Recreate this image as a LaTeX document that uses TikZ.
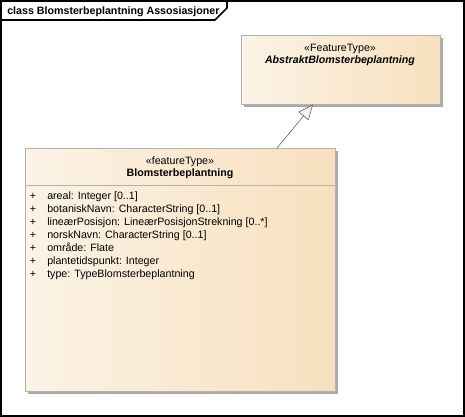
\documentclass[tikz,border=0pt]{standalone}
\usepackage{fontspec}
\setmainfont{Liberation Sans}
\usetikzlibrary{positioning,arrows.meta,shadows}

\definecolor{boxleft}{RGB}{251,243,230}
\definecolor{boxright}{RGB}{248,224,190}
\definecolor{boxline}{RGB}{178,178,178}
\definecolor{shadowgray}{RGB}{170,170,170}
\definecolor{genline}{RGB}{85,85,85}

\tikzset{
	classbox/.style={draw=boxline, left color=boxleft, right color=boxright,
		anchor=north west, inner sep=0pt,
		drop shadow={shadow xshift=2.25pt, shadow yshift=-2.25pt, fill=shadowgray, opacity=1}},
	attr/.style={anchor=base west, inner sep=0pt},
}

\begin{document}
\begin{tikzpicture}[x=0.75pt, y=-0.75pt, font=\fontsize{8}{9.75}\selectfont]
			\useasboundingbox (0,0) rectangle (465,417);
			
			% frame and tab
			\draw[line width=1.5pt] (1,1) rectangle (464,416);
			\draw[line width=1.2pt] (1,20) -- (215,20) -- (227,8) -- (227,1);
			\node[anchor=base west, inner sep=0pt, font=\fontsize{8}{9.75}\selectfont\bfseries] (title) at (7,14.5) {class Blomsterbeplantning Assosiasjoner};
			
			% classes
			\node[classbox, minimum width=149.25pt, minimum height=51.75pt] (abstrakt) at (241,35) {};
			\node[classbox, minimum width=232.5pt, minimum height=182.25pt] (blomst) at (25,148) {};
			
			\node[anchor=base, inner sep=0pt] (abstrakt-st) at (340,51.5) {«FeatureType»};
			\node[anchor=base, inner sep=0pt, font=\fontsize{8}{9.75}\selectfont\bfseries\itshape] (abstrakt-name) at (340,63.5) {AbstraktBlomsterbeplantning};
			
			\node[anchor=base, inner sep=0pt] (blomst-st) at (180,164.5) {«featureType»};
			\node[anchor=base, inner sep=0pt, font=\fontsize{8}{9.75}\selectfont\bfseries] (blomst-name) at (180,176.5) {Blomsterbeplantning};
			\draw[boxline] (blomst.west |- 0,185) -- (blomst.east |- 0,185);
			
			\foreach \a [count=\i from 0] in {areal: Integer [0..1],
				botaniskNavn: CharacterString [0..1],
				lineærPosisjon: LineærPosisjonStrekning [0..*],
				norskNavn: CharacterString [0..1],
				område: Flate,
				plantetidspunkt: Integer,
				type: TypeBlomsterbeplantning} {
				\node[anchor=base, inner sep=0pt] (plus-\i) at (33,199.5+13*\i) {+};
				\node[attr] (attr-\i) at (47,199.5+13*\i) {\a};
			}
			
			% generalization
			\draw[genline, -{Triangle[open, fill=boxleft, length=11.25pt, width=9.75pt]}] ([xshift=189pt]blomst.north west) -- ([xshift=54pt]abstrakt.south west);
		\end{tikzpicture}
\end{document}
